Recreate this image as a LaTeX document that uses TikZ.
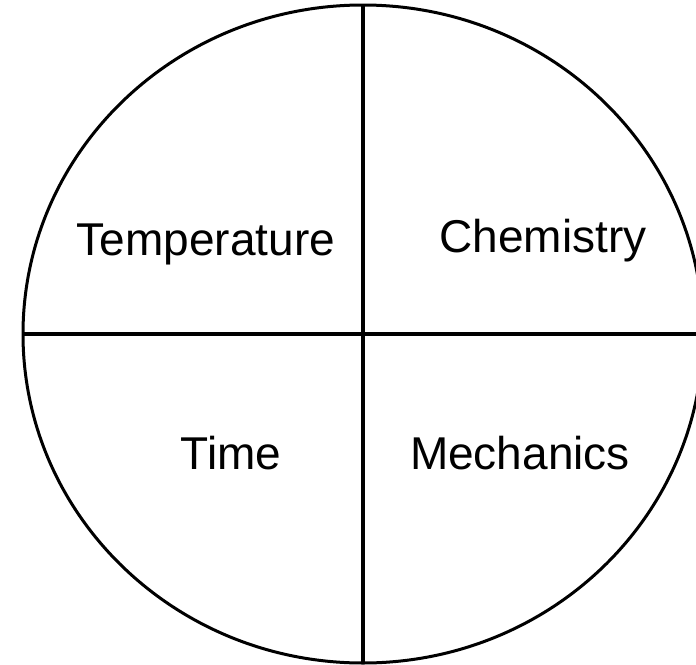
\documentclass[tikz,border=0pt]{standalone}
\usepackage{fontspec}
\setmainfont{Liberation Sans}
\usetikzlibrary{shapes.geometric}

\begin{document}
\begin{tikzpicture}[x=1pt,y=-1pt,
  field/.style={font=\fontsize{46}{55}\selectfont,anchor=base,inner sep=0pt},
  divider/.style={line width=3.5pt}]
\useasboundingbox (0,0) rectangle (696,664);
\clip (0,0) rectangle (696,664);
\node[draw,ellipse,line width=3pt,minimum width=680pt,minimum height=658pt,inner sep=0pt,outer sep=0pt] (ring) at (363,334) {};
\draw[divider] (ring.north)--(ring.south);
\draw[divider] (ring.west)--(ring.east);
\node[field] (temp) at (206,255) {Temperature};
\node[field] (chem) at (543,252) {Chemistry};
\node[field] (time) at (231,469) {Time};
\node[field] (mech) at (520,469) {Mechanics};
\end{tikzpicture}
\end{document}
